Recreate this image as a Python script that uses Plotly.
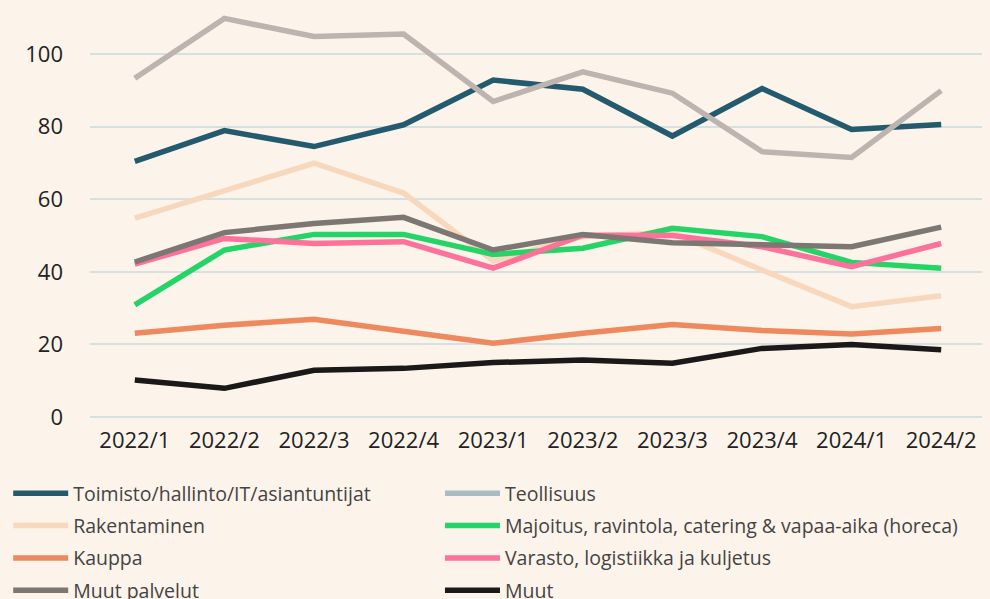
import plotly.graph_objects as go

quarters = ["2022/1", "2022/2", "2022/3", "2022/4", "2023/1", "2023/2", "2023/3", "2023/4", "2024/1", "2024/2"]

toimisto = [70.4, 78.9, 74.5, 80.5, 92.8, 90.3, 77.4, 90.5, 79.2, 80.6]
teollisuus = [93.3, 109.8, 104.8, 105.5, 86.9, 95.1, 89.2, 73.1, 71.5, 89.9]
rakentaminen = [54.8, 62.5, 69.9, 61.7, 43.0, 49.8, 50.8, 40.5, 30.4, 33.4]
majoitus = [30.9, 46.0, 50.3, 50.3, 44.8, 46.5, 52.0, 49.7, 42.6, 41.0]
kauppa = [23.1, 25.3, 26.9, 23.5, 20.3, 23.1, 25.5, 23.8, 22.9, 24.4]
varasto = [42.1, 49.2, 47.8, 48.3, 41.0, 50.1, 50.0, 46.9, 41.4, 47.8]
muut_palvelut = [42.7, 50.8, 53.3, 55.0, 46.0, 50.3, 48.0, 47.4, 46.9, 52.3]
muut = [10.2, 7.9, 12.9, 13.4, 15.0, 15.7, 14.8, 18.9, 20.0, 18.5]

y_ticks = [0, 20, 40, 60, 80, 100]

BG = "#fcf3ea"

# (name, values, line colour, legend colour, legend column, legend rank); drawing order
series = [
    ("Rakentaminen", rakentaminen, "#f8d8bc", "#f8d8bc", "legend", 2),
    ("Kauppa", kauppa, "#ee895d", "#ee895d", "legend", 3),
    ("Muut", muut, "#1a1818", "#1a1818", "legend2", 4),
    ("Toimisto/hallinto/IT/asiantuntijat", toimisto, "#235a6d", "#235a6d", "legend", 1),
    ("Teollisuus", teollisuus, "#bdb4af", "#a8bcc4", "legend2", 1),
    ("Majoitus, ravintola, catering & vapaa-aika (horeca)", majoitus, "#24d466", "#24d466", "legend2", 2),
    ("Varasto, logistiikka ja kuljetus", varasto, "#fd719b", "#fd719b", "legend2", 3),
    ("Muut palvelut", muut_palvelut, "#7c7773", "#7c7773", "legend", 4),
]

fig = go.Figure()
for name, vals, col, lcol, leg, rank in series:
    same = col == lcol
    fig.add_trace(go.Scatter(
        x=quarters, y=vals, mode="lines", name=name,
        line=dict(color=col, width=5.5),
        showlegend=same, legend=leg, legendrank=rank, legendgroup=name,
        hoverinfo="x+y+name",
    ))
    if not same:
        fig.add_trace(go.Scatter(
            x=[None], y=[None], mode="lines", name=name,
            line=dict(color=lcol, width=5.5),
            showlegend=True, legend=leg, legendrank=rank, legendgroup=name + "_leg",
        ))

legend_common = dict(
    orientation="v", yanchor="top", y=-0.1229, xanchor="left",
    font=dict(family="Open Sans, sans-serif", size=19.5, color="#444444"),
    itemwidth=55, bgcolor="rgba(0,0,0,0)",
    traceorder="grouped", tracegroupgap=4,
)

fig.update_layout(
    width=982, height=620,
    paper_bgcolor=BG, plot_bgcolor=BG,
    margin=dict(l=82, r=4, t=0, b=205),
    font=dict(family="Open Sans, sans-serif", color="#222222"),
    showlegend=True,
    legend=dict(x=-0.0913, **legend_common),
    legend2=dict(x=0.3906, **legend_common),
    xaxis=dict(
        type="category", range=[-0.5, 9.5], showgrid=False, zeroline=False,
        showline=False, ticks="", tickfont=dict(size=22, color="#222222"),
        ticklabelstandoff=2,
    ),
    yaxis=dict(
        range=[-1.65, 112.67], tickvals=y_ticks, showgrid=True,
        gridcolor="#d6e0e1", gridwidth=2, zeroline=False, showline=False,
        ticks="", tickfont=dict(size=22, color="#222222"), ticklabelstandoff=26,
    ),
)

fig.write_html("out.html", post_script="document.body.style.backgroundColor='%s';" % BG)
